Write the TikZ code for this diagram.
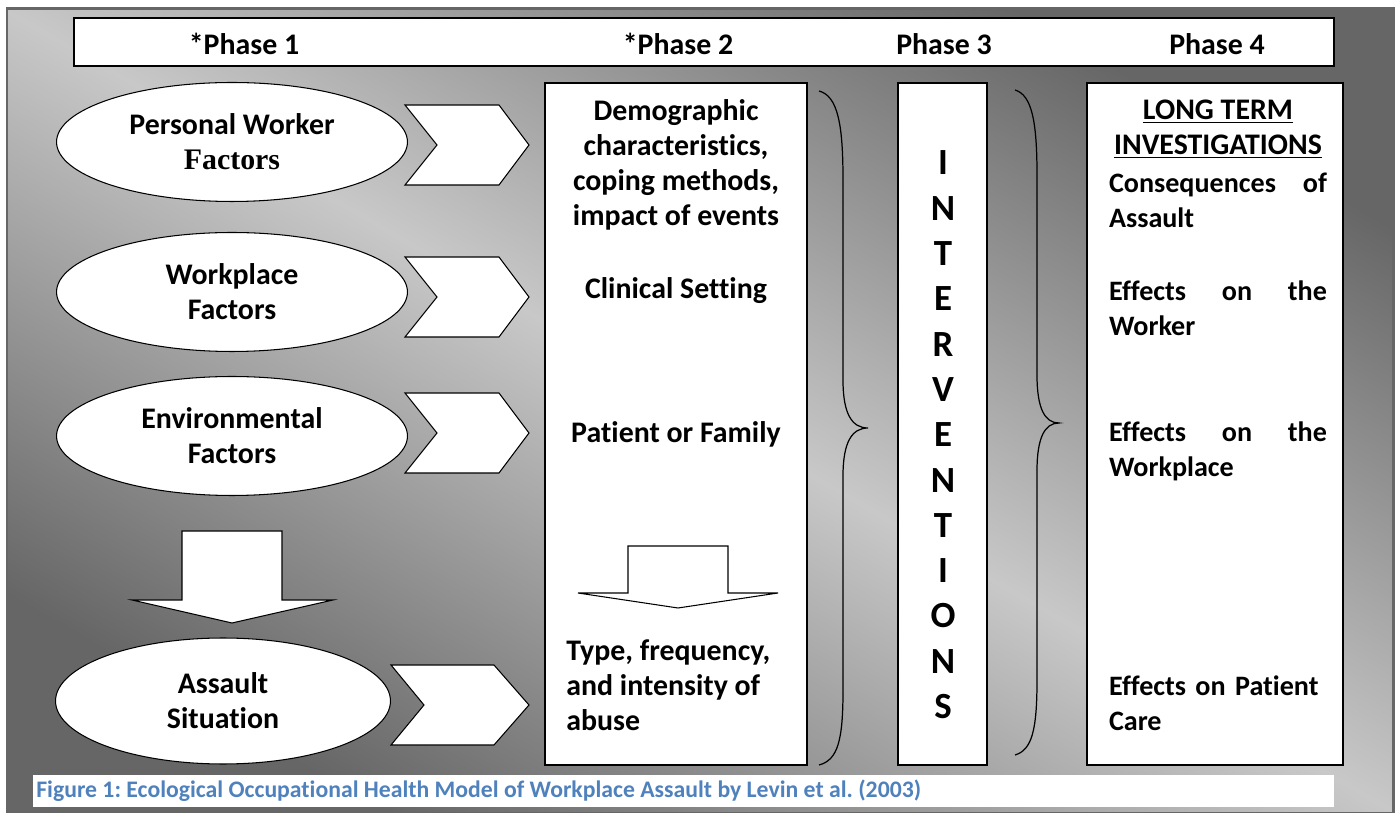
\documentclass[tikz,border=0pt]{standalone}
\usepackage{fontspec}
\setmainfont[Ligatures=NoCommon]{Carlito}
\newfontfamily\timesfont{Liberation Serif}
\usetikzlibrary{shapes.geometric,positioning}
\definecolor{bgdark}{HTML}{666666}
\definecolor{bglight}{HTML}{C8C8C8}
\definecolor{captionblue}{HTML}{4F81BD}
\frenchspacing

\begin{document}
\begin{tikzpicture}[x=0.02cm,y=-0.02cm,
      back_frame/.style={
         draw=bgdark,
         line width=1.7pt,
         top color=bgdark,
         bottom color=bgdark,
         middle color=bglight,
         shading angle=-30},
      factor_ell/.style={
         ellipse,
         draw=black,
         fill=white,
         line width=0.6pt,
         inner sep=0pt,
         minimum width=7.02cm,
         minimum height=2.38cm,
         align=center,
         font=\bfseries\fontsize{17}{20}\selectfont},
      phase_box/.style={
         draw=black,
         fill=white,
         line width=0.6pt},
      shape_white/.style={
         draw=black,
         fill=white,
         line width=0.6pt,
         line join=miter},
      body_txt/.style={
         inner sep=0pt,
         align=center,
         font=\bfseries\fontsize{17}{20}\selectfont},
      letter_txt/.style={
         inner sep=0pt,
         font=\bfseries\fontsize{21}{24}\selectfont},
      brace_line/.style={
         draw=black,
         line width=0.7pt}
]
      \useasboundingbox (0,0) rectangle (1396,813);
      %background
      \shade[back_frame] (7,9) rectangle (1393,813);

      %header
      \draw[phase_box] (74,18) rectangle (1334,66);
      \foreach \x/\txt/\nm in {% x/text/name
        244/*Phase 1/hd1,
        678/*Phase 2/hd2,
        944/Phase 3/hd3,
        1217/Phase 4/hd4}
        \node[body_txt] (\nm) at (\x,44) {\txt};

      %phase boxes
      \draw[phase_box] (545,83) rectangle (807,765);
      \draw[phase_box] (898,83) rectangle (987,765);
      \draw[phase_box] (1087,83) rectangle (1343,765);

      %phase 1
      \node[factor_ell] (pers) at (232,142) {Personal Worker\\{\timesfont Factors}};
      \node[factor_ell] (work) at (232,292) {Workplace\\Factors};
      \node[factor_ell] (env) at (232,436) {Environmental\\Factors};
      \node[factor_ell,minimum width=6.7cm,minimum height=2.52cm] (asslt) at (223,701) {Assault\\Situation};

      \foreach \y/\l/\n/\r in {% centre/left/notch/corner
        145/405/437/499,
        297/405/437/499,
        433/405/437/499,
        705/391/424/494}
        \draw[shape_white] (\l,\y-40) -- (\r,\y-40) -- (529,\y) -- (\r,\y+40)
          -- (\l,\y+40) -- (\n,\y) -- cycle;

      \draw[shape_white] (182,531) -- (282,531) -- (282,600) -- (333,600)
        -- (232,623) -- (132,600) -- (182,600) -- cycle;

      %phase 2
      \node[body_txt] (demo) at (676,165) {Demographic\\characteristics,\\coping methods,\\impact of events};
      \node[body_txt] (clin) at (676,291) {Clinical Setting};
      \node[body_txt] (pat) at (676,434) {Patient or Family};
      \draw[shape_white] (628,546) -- (728,546) -- (728,593) -- (778,593)
        -- (678,608) -- (578,593) -- (628,593) -- cycle;
      \node[body_txt,align=left,anchor=west] (abuse) at (566,685) {Type, frequency,\\and intensity of\\abuse};

      %braces
      \draw[brace_line] (819,91) .. controls (838,96) and (843,125) .. (843,180)
        -- (843,380) .. controls (843,414) and (852,428) .. (868,428)
        .. controls (852,428) and (843,442) .. (843,476)
        -- (843,690) .. controls (843,740) and (838,760) .. (819,765);
      \draw[brace_line] (1015,90) .. controls (1032,95) and (1037,122) .. (1037,175)
        -- (1037,375) .. controls (1037,409) and (1045,423) .. (1059,423)
        .. controls (1045,423) and (1037,437) .. (1037,471)
        -- (1037,680) .. controls (1037,730) and (1032,750) .. (1015,755);

      %phase 3
      \foreach \ch [count=\i from 0] in {I,N,T,E,R,V,E,N,T,I,O,N,S}
        \node[letter_txt] (int\i) at (943,163+45.3*\i) {\ch};

      %phase 4
      \node[body_txt] (lterm) at (1218,129.5) {\underline{LONG TERM}\\\underline{INVESTIGATIONS}};
      \foreach \y/\txt/\nm in {% centre/text/name
        200.5/Consequences\hfill of\\Assault/cons,
        308.5/Effects\hfill on\hfill the\\Worker/efwork,
        451.5/Effects\hfill on\hfill the\\Workplace/efplace,
        703/\mbox{Effects on Patient}\\Care/efcare}
        \node[body_txt,text width=4.36cm,align=left,font=\bfseries\fontsize{16}{20}\selectfont] (\nm) at (1218,\y) {\txt};

      %caption
      \node[fill=white,inner sep=0pt,minimum width=26.02cm,minimum height=0.64cm] (capbox) at (683.5,791) {};
      \node[anchor=west,inner sep=0pt,text=captionblue,font=\bfseries\fontsize{13.5}{16}\selectfont] (cap) at (36,791)
        {Figure 1: Ecological Occupational Health Model of Workplace Assault by Levin et al. (2003)};
\end{tikzpicture}
\end{document}
